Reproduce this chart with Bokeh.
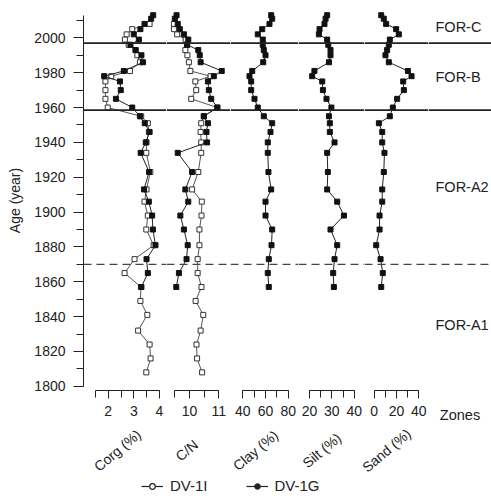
from bokeh.plotting import figure
from bokeh.layouts import row, column
from bokeh.models import (Range1d, Span, FixedTicker, SingleIntervalTicker, LinearAxis,
                          ColumnDataSource, Legend, LegendItem)
from bokeh.core.properties import value
from bokeh.embed import file_html
from bokeh.resources import INLINE

# ---------------- data ----------------
years_1G = [2013, 2011, 2008, 2005, 2002, 1999, 1996, 1993, 1990, 1986, 1981, 1978, 1975, 1970, 1965,
            1960, 1955, 1951, 1946, 1940, 1934, 1923, 1913, 1906, 1898, 1890, 1881, 1873, 1865, 1857]
corg_1G = [3.76, 3.68, 3.42, 3.26, 3.0, 3.2, 2.87, 3.07, 3.3, 3.36, 2.61, 1.84, 2.46, 2.49, 2.3,
           2.94, 3.24, 3.43, 3.62, 3.47, 3.27, 3.6, 3.4, 3.59, 3.72, 3.75, 3.85, 3.5, 3.55, 3.3]
cn_1G = [9.56, 9.5, 9.6, 9.67, 9.81, 9.96, 9.92, 10.3, 10.35, 10.38, 11.1, 10.83, 10.63, 10.66, 10.74,
         10.95, 10.49, 10.63, 10.58, 10.6, 9.6, 10.09, 9.86, 9.96, 9.69, 9.81, 9.94, 9.9, 9.64, 9.55]
clay_1G = [65.0, 65.9, 63.5, 57.1, 53.2, 57.6, 57.6, 58.5, 60.0, 58.0, 48.3, 45.9, 47.4, 47.4, 50.3,
           53.2, 58.5, 65.9, 64.4, 62.0, 62.0, 62.6, 65.0, 60.0, 60.0, 65.9, 65.3, 62.9, 62.0, 62.9]
silt_1G = [27.9, 27.2, 26.7, 24.5, 24.2, 27.9, 28.4, 29.4, 29.4, 28.7, 22.2, 21.2, 25.7, 26.0, 27.6,
           29.8, 28.7, 29.1, 29.1, 31.2, 27.9, 28.2, 27.9, 32.4, 35.4, 29.4, 32.4, 31.2, 30.6, 30.9]
sand_1G = [6.3, 8.6, 10.7, 19.7, 22.1, 14.0, 13.1, 11.6, 10.1, 13.1, 30.2, 33.5, 26.0, 26.6, 20.6,
           16.7, 14.0, 4.2, 7.2, 7.2, 9.2, 8.6, 7.2, 7.2, 4.8, 4.8, 1.8, 5.7, 7.7, 6.3]

years_1I = [2008, 2005, 2002, 1999, 1996, 1993, 1990, 1986, 1981, 1978, 1975, 1970, 1965, 1960, 1955,
            1951, 1946, 1940, 1934, 1923, 1913, 1906, 1898, 1890, 1881, 1873, 1865, 1857, 1849, 1841,
            1832, 1824, 1816, 1808]
corg_1I = [3.62, 2.94, 2.72, 2.65, 2.8, 3.07, 3.14, 3.24, 2.85, 2.12, 1.89, 1.89, 1.89, 1.98, 3.29,
           3.55, 3.59, 3.5, 3.49, 3.65, 3.5, 3.42, 3.55, 3.49, 3.78, 3.03, 2.64, 3.28, 3.26, 3.53,
           3.17, 3.62, 3.66, 3.49]
cn_1I = [9.47, 9.47, 9.58, 9.87, 9.92, 9.86, 9.93, 9.98, 10.03, 10.72, 10.2, 10.23, 10.06, 10.95, 10.49,
         10.4, 10.38, 10.4, 10.4, 10.3, 10.09, 10.42, 10.41, 10.34, 10.34, 10.28, 10.28, 10.41, 10.21, 10.47,
         10.38, 10.24, 10.26, 10.43]

titles = ["Corg (%)", "C/N", "Clay (%)", "Silt (%)", "Sand (%)"]
tick_major = [[2, 3, 4], [10, 11], [40, 60, 80], [20, 30, 40], [0, 20, 40]]
tick_all = [[1.5, 2, 2.5, 3, 3.5, 4], [9.5, 10, 10.5, 11], [40, 50, 60, 70, 80],
            [20, 25, 30, 35, 40], [0, 10, 20, 30, 40]]
axis_bounds = [(1.5, 4), (9.5, 11), (40, 80), (20, 40), (0, 40)]

zone_names = ["FOR-A1", "FOR-A2", "FOR-B", "FOR-C"]
zone_edges = [1800, 1870, 1958.5, 1997, 2016]
boundaries = [1870, 1958.5, 1997]
series_names = ["DV-1I", "DV-1G"]

# ---------------- layout / style ----------------
FONT = "Liberation Sans"
INK = "#222222"
TOP, FRAME_H, BOT = 10, 381, 34
FIG_H = TOP + FRAME_H + BOT
Y_AXIS_W = 83
frame_w = [83, 64, 68, 66, 64]
axis_px = [(12, 75.8), (8.3, 52.3), (12.3, 57.7), (11, 55.7), (9.7, 54.3)]
ZONES_W = 63
TOTAL_W = Y_AXIS_W + sum(frame_w) + ZONES_W
BOTTOM_H = 496 - FIG_H
boundary_dash = ["8 5", "solid", "solid"]
boundary_color = ["#444444", INK, INK]
boundary_width = [1.3, 1.6, 1.6]

yr = Range1d(1797.6, 2015.7)


def x_range_for(bounds, px, fw):
    lo, hi = bounds
    s = (hi - lo) / (px[1] - px[0])
    start = lo - px[0] * s
    return Range1d(start, start + fw * s)


def base_fig(width, xr, left=0):
    p = figure(width=width, height=FIG_H, x_range=xr, y_range=yr,
               output_backend="svg", toolbar_location=None,
               x_axis_location=None, y_axis_location=("left" if left else None),
               min_border_left=left, min_border_right=0,
               min_border_top=TOP, min_border_bottom=BOT)
    p.outline_line_color = None
    for g in p.grid:
        g.visible = False
    for loc, dash, col, w in zip(boundaries, boundary_dash, boundary_color, boundary_width):
        p.add_layout(Span(location=loc, dimension="width", line_color=col,
                          line_width=w, line_dash=dash))
    return p


figs = []
series_1G = [corg_1G, cn_1G, clay_1G, silt_1G, sand_1G]
series_1I = [corg_1I, cn_1I, None, None, None]
frame_left = []
x0 = Y_AXIS_W
for i in range(5):
    xr = x_range_for(axis_bounds[i], axis_px[i], frame_w[i])
    left = Y_AXIS_W if i == 0 else 0
    p = base_fig(frame_w[i] + left, xr, left)
    frame_left.append(x0)
    x0 += frame_w[i]

    if series_1I[i] is not None:
        p.line(series_1I[i], years_1I, line_color="#555555", line_width=1)
        p.scatter(series_1I[i], years_1I, marker="square", size=5,
                  fill_color="white", line_color="#333333", line_width=1)
    p.line(series_1G[i], years_1G, line_color="#222222", line_width=1)
    p.scatter(series_1G[i], years_1G, marker="square", size=5,
              fill_color="#111111", line_color="#111111")

    ax = LinearAxis(bounds=axis_bounds[i],
                    ticker=FixedTicker(ticks=tick_major[i], minor_ticks=tick_all[i]))
    ax.major_tick_out = 8
    ax.major_tick_in = 0
    ax.minor_tick_out = 7
    ax.minor_tick_in = 0
    ax.major_label_standoff = 7
    ax.axis_line_color = INK
    ax.major_tick_line_color = INK
    ax.minor_tick_line_color = INK
    ax.major_label_text_font = FONT
    ax.major_label_text_font_size = "14px"
    ax.major_label_text_color = INK
    p.add_layout(ax, "below")

    if i == 0:
        ya = p.yaxis[0]
        ya.ticker = SingleIntervalTicker(interval=20, num_minor_ticks=2)
        ya.bounds = (1800, 2013)
        ya.major_tick_out = 10
        ya.major_tick_in = 0
        ya.minor_tick_out = 7
        ya.minor_tick_in = 0
        ya.major_label_standoff = 8
        ya.axis_line_color = INK
        ya.major_tick_line_color = INK
        ya.minor_tick_line_color = INK
        ya.major_label_text_font = FONT
        ya.major_label_text_font_size = "14px"
        ya.major_label_text_color = INK
        ya.axis_label = "Age (year)"
        ya.axis_label_text_font = FONT
        ya.axis_label_text_font_size = "14px"
        ya.axis_label_text_font_style = "normal"
        ya.axis_label_text_color = INK
        ya.axis_label_standoff = 8
    figs.append(p)

# zones column
zp = base_fig(ZONES_W, Range1d(0, ZONES_W))
zone_mid = [(a + b) / 2 for a, b in zip(zone_edges[:-1], zone_edges[1:])]
zp.text(x=[7] * len(zone_names), y=zone_mid, text=zone_names,
        text_font=value(FONT), text_font_size="14.5px", text_color=INK,
        text_align="left", text_baseline="middle")
zax = LinearAxis(ticker=FixedTicker(ticks=[]))
zax.axis_line_color = None
zax.major_tick_out = 0
zax.major_tick_in = 0
zax.minor_tick_out = 0
zax.minor_tick_in = 0
zax.major_label_standoff = 0
zax.axis_label = "Zones"
zax.axis_label_text_font = FONT
zax.axis_label_text_font_size = "14.5px"
zax.axis_label_text_font_style = "normal"
zax.axis_label_text_color = INK
zax.axis_label_standoff = 16
zp.add_layout(zax, "below")
figs.append(zp)

# bottom strip: rotated panel titles and the legend
bf = figure(width=TOTAL_W, height=BOTTOM_H, x_range=Range1d(0, TOTAL_W), y_range=Range1d(0, BOTTOM_H),
            output_backend="svg", toolbar_location=None,
            x_axis_location=None, y_axis_location=None, min_border=0)
bf.outline_line_color = None
for g in bf.grid:
    g.visible = False
title_x = [frame_left[i] + (axis_px[i][0] + axis_px[i][1]) / 2 - 10 for i in range(5)]
bf.text(x=title_x, y=[46] * 5, text=titles, angle=0.70,
        text_font=value(FONT), text_font_size="14px", text_color=INK,
        text_align="center", text_baseline="middle")

# legend proxies (kept outside the visible range)
proxy = ColumnDataSource(dict(x=[-1000], y=[-1000]))
l1 = bf.line("x", "y", source=proxy, line_color=INK, line_width=1.2)
s1 = bf.scatter("x", "y", source=proxy, marker="circle", size=7,
                fill_color="white", line_color=INK, line_width=1.2)
l2 = bf.line("x", "y", source=proxy, line_color=INK, line_width=1.2)
s2 = bf.scatter("x", "y", source=proxy, marker="circle", size=7,
                fill_color=INK, line_color=INK)
leg = Legend(items=[LegendItem(label=series_names[0], renderers=[l1, s1]),
                    LegendItem(label=series_names[1], renderers=[l2, s2])],
             location=(141, 2), orientation="horizontal",
             border_line_color=None, background_fill_alpha=0,
             padding=0, margin=0, spacing=38,
             glyph_width=22, glyph_height=14, label_standoff=7, label_height=14,
             label_text_font=FONT, label_text_font_size="15px", label_text_color=INK)
bf.add_layout(leg)

layout = column(row(*figs, spacing=0), bf, spacing=0)
open("out.html", "w").write(file_html(layout, INLINE))
